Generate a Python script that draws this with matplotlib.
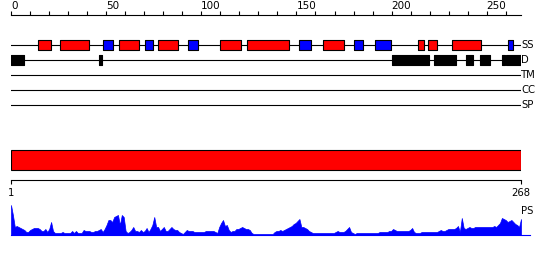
import numpy as np
import matplotlib
matplotlib.use("Agg")
import matplotlib.pyplot as plt
from matplotlib.ticker import MultipleLocator, FixedLocator

plt.rcParams['font.family'] = ['DejaVu Sans']

# ---------------- data ----------------
seq_len = 268
tracks = ['SS', 'D', 'TM', 'CC', 'SP']

helix_start = [14, 26, 57, 77, 110, 124, 164, 214, 219, 232]
helix_end   = [21, 41, 67, 88, 121, 146, 175, 217, 224, 247]
strand_start = [48.5, 70.5, 93, 151.5, 180.2, 191.4, 261.3]
strand_end   = [53.5, 74.5, 98.5, 157.5, 184.8, 199.5, 263.6]
dis_start = [0, 46.2, 200.2, 222.3, 239.1, 246.5, 258.0, 260.1]
dis_end   = [6.7, 47.7, 219.5, 233.7, 242.6, 251.7, 259.4, 267.8]

ps = [30, 20, 8, 9, 8, 7, 6, 5, 3, 3,
      5, 6, 7, 7, 7, 6, 4, 4, 6, 3,
      6, 13, 4, 2, 2, 2, 2, 3, 2, 2,
      2, 2, 4, 2, 4, 2, 2, 2, 5, 4,
      4, 4, 3, 3, 4, 4, 5, 6, 3, 6,
      10, 15, 15, 13, 18, 19, 20, 10, 20, 18,
      4, 2, 3, 5, 8, 4, 4, 3, 5, 3,
      4, 7, 3, 6, 10, 18, 8, 8, 4, 6,
      8, 4, 4, 6, 8, 6, 5, 5, 3, 2,
      1, 3, 5, 4, 4, 4, 3, 3, 3, 3,
      3, 3, 4, 4, 4, 4, 4, 3, 2, 8,
      12, 15, 9, 10, 5, 3, 4, 4, 6, 6,
      7, 8, 7, 6, 6, 5, 2, 1, 1, 1,
      1, 1, 1, 1, 1, 1, 1, 1, 3, 4,
      4, 5, 4, 5, 6, 7, 8, 9, 11, 12,
      14, 16, 8, 8, 7, 6, 4, 3, 2, 2,
      2, 2, 2, 2, 2, 2, 2, 2, 2, 2,
      3, 4, 3, 3, 3, 4, 6, 8, 3, 2,
      1, 2, 2, 2, 2, 2, 2, 2, 2, 2,
      2, 2, 2, 3, 3, 3, 3, 3, 4, 4,
      6, 5, 4, 4, 4, 4, 4, 4, 4, 5,
      7, 3, 2, 2, 2, 3, 3, 3, 3, 3,
      3, 3, 3, 3, 4, 5, 4, 4, 5, 6,
      6, 6, 6, 7, 9, 3, 17, 7, 6, 7,
      8, 7, 7, 8, 8, 8, 8, 8, 8, 8,
      8, 8, 8, 9, 8, 10, 12, 17, 16, 15,
      13, 14, 15, 13, 11, 10, 8, 16]

# ---------------- layout helpers ----------------
W, H = 550, 260
fig = plt.figure(figsize=(W / 100, H / 100), dpi=100)
fig.patch.set_facecolor('white')


def px_axes(x0, y0, x1, y1):
    return fig.add_axes([x0 / W, 1 - y1 / H, (x1 - x0) / W, (y1 - y0) / H])


LW = 0.8
TXT = dict(fontsize=8, fontstretch='condensed')

# ---------------- top panel: ruler + tracks ----------------
ax1 = px_axes(11, 15, 521, 110)
ax1.set_xlim(0, seq_len)
ax1.set_ylim(95, 0)
for s in ['left', 'right', 'bottom']:
    ax1.spines[s].set_visible(False)
ax1.spines['top'].set_linewidth(LW)
ax1.yaxis.set_visible(False)
ax1.xaxis.tick_top()
ax1.xaxis.set_major_locator(MultipleLocator(50))
ax1.xaxis.set_minor_locator(MultipleLocator(10))
ax1.tick_params(axis='x', which='both', direction='out', length=3, width=LW,
                pad=0, labelsize=7.5)
for lab in ax1.get_xticklabels(which='major'):
    lab.set_horizontalalignment('left')
ax1.patch.set_alpha(0)

row_y = {t: 30 + 15 * i for i, t in enumerate(tracks)}
box_h = 10
for t in tracks:
    ax1.plot([0, seq_len], [row_y[t], row_y[t]], color='black', lw=LW, zorder=1)
    ax1.text(seq_len, row_y[t], t, ha='left', va='center', **TXT)

ax1.broken_barh([(s, e - s) for s, e in zip(helix_start, helix_end)],
                (row_y['SS'] - box_h / 2, box_h), facecolor='#ff0000',
                edgecolor='black', linewidth=LW, zorder=2)
ax1.broken_barh([(s, e - s) for s, e in zip(strand_start, strand_end)],
                (row_y['SS'] - box_h / 2, box_h), facecolor='#0000ff',
                edgecolor='black', linewidth=LW, zorder=2)
ax1.broken_barh([(s, e - s) for s, e in zip(dis_start, dis_end)],
                (row_y['D'] - box_h / 2, box_h), facecolor='black',
                edgecolor='black', linewidth=LW, zorder=2)

# ---------------- middle panel: domain bar + ruler ----------------
ax3 = px_axes(11, 148, 521, 180)
ax3.set_xlim(1, seq_len)
ax3.set_ylim(32, 0)
for s in ['left', 'right', 'top']:
    ax3.spines[s].set_visible(False)
ax3.spines['bottom'].set_linewidth(LW)
ax3.yaxis.set_visible(False)
ax3.barh([12], [seq_len - 1], left=1, height=20, color='#ff0000',
         edgecolor='black', linewidth=LW)
ax3.xaxis.set_major_locator(FixedLocator([1, seq_len]))
ax3.set_xticklabels(['1', str(seq_len)], fontstretch='condensed')
ax3.tick_params(axis='x', direction='out', length=3, width=LW, pad=3,
                labelsize=8)
ax3.patch.set_alpha(0)

# ---------------- bottom panel: PS profile ----------------
ax4 = px_axes(11, 205, 530, 235)
ax4.set_xlim(1, 1 + 519 * (seq_len - 1) / 510)
ax4.set_ylim(0, 30)
x = np.arange(1, len(ps) + 1)
ax4.fill_between(x, ps, 0, color='#0000ff', linewidth=0.5, edgecolor='#0000ff')
for s in ['left', 'right', 'top']:
    ax4.spines[s].set_visible(False)
ax4.spines['bottom'].set_color('#0000ff')
ax4.spines['bottom'].set_linewidth(LW)
ax4.set_xticks([])
ax4.set_yticks([])
ax4.patch.set_alpha(0)
ax4.text(seq_len, 24, 'PS', ha='left', va='center', **TXT)

fig.savefig('out.png', dpi=100, facecolor='white')
